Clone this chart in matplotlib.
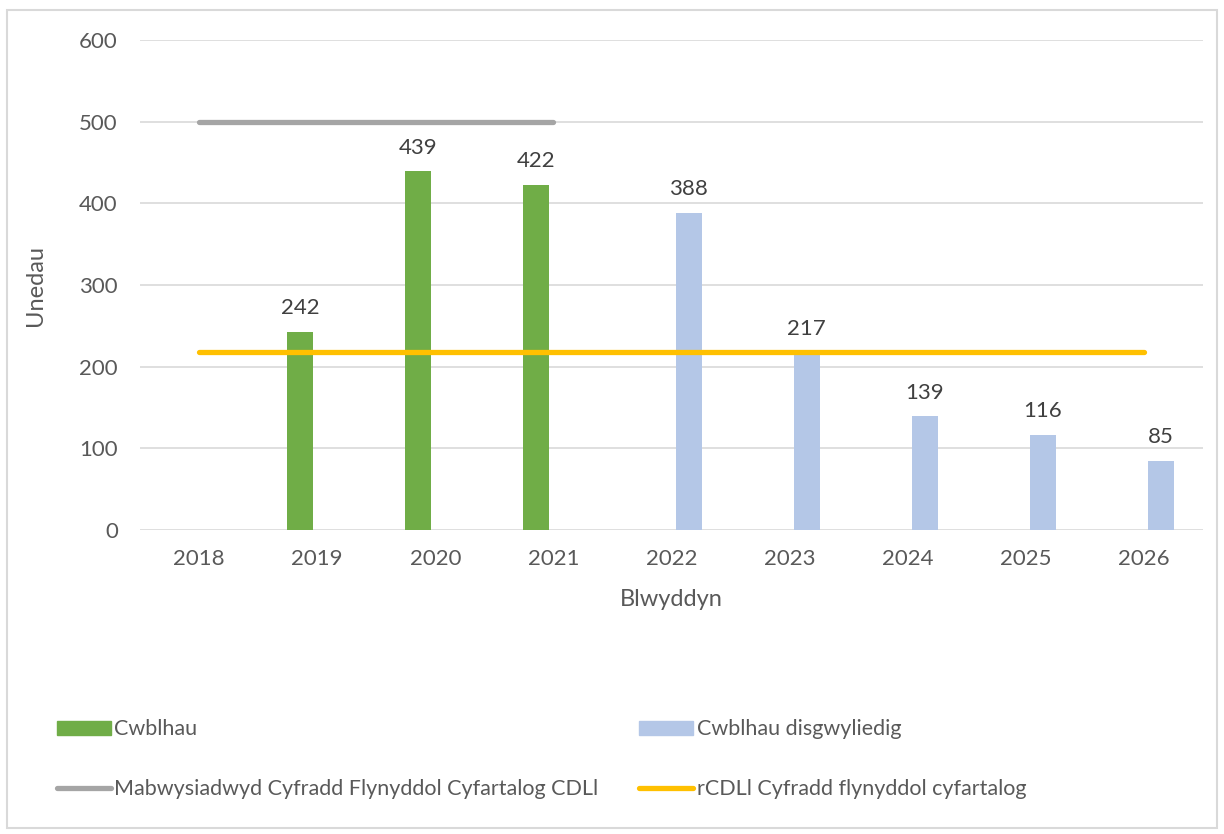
import numpy as np
import matplotlib
matplotlib.use("Agg")
import matplotlib.pyplot as plt
from matplotlib.patches import Rectangle, Patch
from matplotlib.lines import Line2D

years = ["2018", "2019", "2020", "2021", "2022", "2023", "2024", "2025", "2026"]
completed = [None, 242, 439, 422, None, None, None, None, None]
expected = [None, None, None, None, 388, 217, 139, 116, 85]
adopted_rate = [500, 500, 500, 500, None, None, None, None, None]
rldp_rate = [218, 218, 218, 218, 218, 218, 218, 218, 218]

GREEN = "#70AD47"
BLUE = "#B4C7E7"
GREY = "#A5A5A5"
GOLD = "#FFC000"
TEXT = "#595959"

plt.rcParams["font.family"] = ["Lato", "DejaVu Sans"]
plt.rcParams["text.color"] = TEXT

fig = plt.figure(figsize=(12.24, 8.34), dpi=100)
ax = fig.add_axes([140 / 1224, 1 - 530 / 834, 1063 / 1224, 490 / 834])

x = np.arange(len(years))
w = 0.22
off = 0.144

cx = [i for i, v in enumerate(completed) if v is not None]
cv = [v for v in completed if v is not None]
ex = [i for i, v in enumerate(expected) if v is not None]
ev = [v for v in expected if v is not None]

b1 = ax.bar(np.array(cx) - off, cv, width=w, color=GREEN, zorder=2)
b2 = ax.bar(np.array(ex) + off, ev, width=w, color=BLUE, zorder=2)
for bars in (b1, b2):
    ax.bar_label(bars, padding=10, fontsize=16, color="#404040")

ax_x = [i for i, v in enumerate(adopted_rate) if v is not None]
ax_v = [v for v in adopted_rate if v is not None]
ax.plot(ax_x, ax_v, color=GREY, lw=3.8, solid_capstyle="round", zorder=3)
ax.plot(x, rldp_rate, color=GOLD, lw=3.8, solid_capstyle="round", zorder=3)

ax.set_xlim(-0.5, len(years) - 0.5)
ax.set_ylim(0, 600)
ax.set_yticks(range(0, 601, 100))
ax.set_xticks(x)
ax.set_xticklabels(years)
ax.tick_params(axis="both", length=0, labelsize=16, colors=TEXT)
ax.tick_params(axis="y", pad=16)
ax.tick_params(axis="x", pad=14)
ax.grid(axis="y", color="#D9D9D9", lw=1.2, zorder=0)
for s in ax.spines.values():
    s.set_visible(False)

ax.set_ylabel("Unedau", fontsize=17, color=TEXT, labelpad=24)
ax.set_xlabel("Blwyddyn", fontsize=17, color=TEXT, labelpad=14)

handles = [
    Patch(color=GREEN),
    Line2D([], [], color=GREY, lw=3.8, solid_capstyle="round"),
    Patch(color=BLUE),
    Line2D([], [], color=GOLD, lw=3.8, solid_capstyle="round"),
]
labels = [
    "Cwblhau",
    "Mabwysiadwyd Cyfradd Flynyddol Cyfartalog CDLl",
    "Cwblhau disgwyliedig",
    "rCDLl Cyfradd flynyddol cyfartalog",
]
leg = fig.legend(handles, labels, ncol=2, loc="upper left",
                 bbox_to_anchor=(38 / 1224, 1 - 700 / 834),
                 frameon=False, fontsize=15.5, handlelength=2.5,
                 handleheight=0.6, handletextpad=0.15, columnspacing=1.9,
                 labelspacing=1.85, borderpad=0.4)
for t in leg.get_texts():
    t.set_color(TEXT)

fig.patches.append(Rectangle((7 / 1224, 1 - 828 / 834), 1210 / 1224, 818 / 834,
                             transform=fig.transFigure, fill=False,
                             edgecolor="#D9D9D9", lw=1.5))

fig.savefig("out.png", dpi=100)
